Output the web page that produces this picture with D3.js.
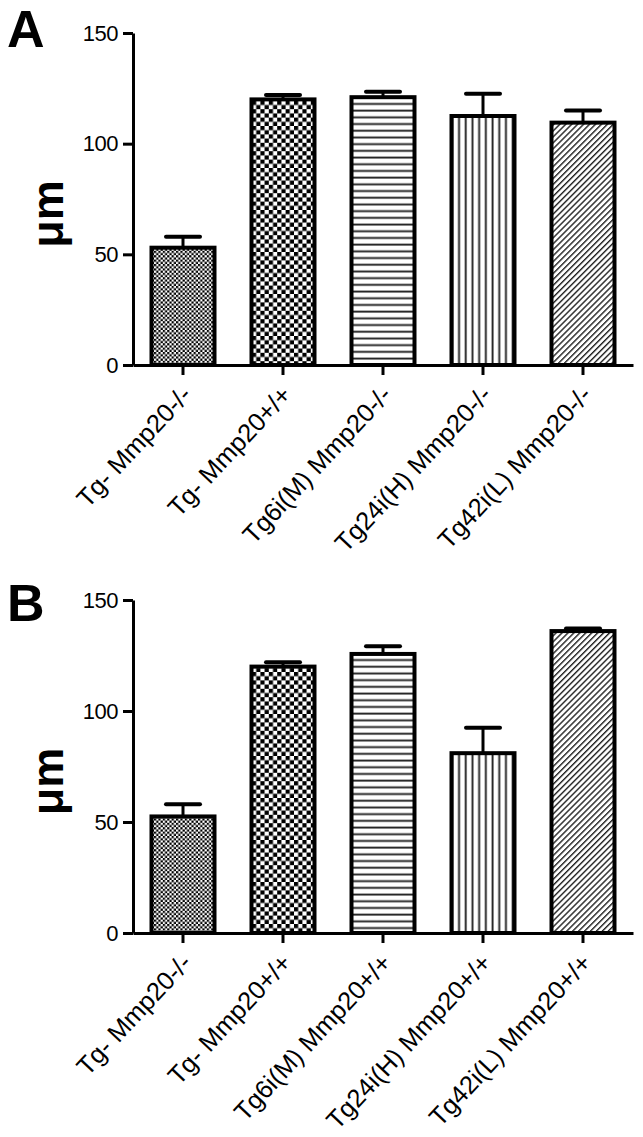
<!DOCTYPE html>
<html>
<head>
<meta charset="utf-8">
<script src="https://cdn.jsdelivr.net/npm/d3@7"></script>
<style>
  html, body { margin: 0; padding: 0; background: #fff; }
  svg { display: block; }
  text { font-family: "Liberation Sans", Arial, sans-serif; fill: #000; }
</style>
</head>
<body>
<script>
// ---- data ----
const categoriesA = ["Tg- Mmp20-/-", "Tg- Mmp20+/+", "Tg6i(M) Mmp20-/-", "Tg24i(H) Mmp20-/-", "Tg42i(L) Mmp20-/-"];
const valuesA = [53, 120, 121, 112.5, 109.5];
const errorsA = [5, 2, 2.5, 10, 5.5];

const categoriesB = ["Tg- Mmp20-/-", "Tg- Mmp20+/+", "Tg6i(M) Mmp20+/+", "Tg24i(H) Mmp20+/+", "Tg42i(L) Mmp20+/+"];
const valuesB = [52.5, 120, 125.7, 81, 136];
const errorsB = [5.5, 2, 3.5, 11.5, 1.2];

const yTicks = [0, 50, 100, 150];
const patternIds = ["checkFine", "checkCoarse", "hLines", "vLines", "diag"];
const panelLetters = ["A", "B"];
const yLabel = "μm";

// ---- svg ----
const W = 643, H = 1137;
const svg = d3.select("body").append("svg").attr("width", W).attr("height", H);

// patterns
const defs = svg.append("defs");
{
  let p = defs.append("pattern").attr("id", "checkFine").attr("patternUnits", "userSpaceOnUse")
    .attr("width", 4.4).attr("height", 4.4);
  p.append("rect").attr("width", 4.4).attr("height", 4.4).attr("fill", "#fff");
  p.append("rect").attr("x", 0).attr("y", 0).attr("width", 2.2).attr("height", 2.2).attr("fill", "#000");
  p.append("rect").attr("x", 2.2).attr("y", 2.2).attr("width", 2.2).attr("height", 2.2).attr("fill", "#000");

  p = defs.append("pattern").attr("id", "checkCoarse").attr("patternUnits", "userSpaceOnUse")
    .attr("width", 8.4).attr("height", 8.4);
  p.append("rect").attr("width", 8.4).attr("height", 8.4).attr("fill", "#fff");
  p.append("rect").attr("x", 0).attr("y", 0).attr("width", 4.2).attr("height", 4.2).attr("fill", "#000");
  p.append("rect").attr("x", 4.2).attr("y", 4.2).attr("width", 4.2).attr("height", 4.2).attr("fill", "#000");

  p = defs.append("pattern").attr("id", "hLines").attr("patternUnits", "userSpaceOnUse")
    .attr("width", 10).attr("height", 6.7);
  p.append("rect").attr("width", 10).attr("height", 6.7).attr("fill", "#fff");
  p.append("rect").attr("x", 0).attr("y", 2.5).attr("width", 10).attr("height", 1.9).attr("fill", "#222");

  p = defs.append("pattern").attr("id", "vLines").attr("patternUnits", "userSpaceOnUse")
    .attr("width", 6.7).attr("height", 10);
  p.append("rect").attr("width", 6.7).attr("height", 10).attr("fill", "#fff");
  p.append("rect").attr("x", 2.5).attr("y", 0).attr("width", 1.9).attr("height", 10).attr("fill", "#222");

  p = defs.append("pattern").attr("id", "diag").attr("patternUnits", "userSpaceOnUse")
    .attr("width", 4.2).attr("height", 10).attr("patternTransform", "rotate(45)");
  p.append("rect").attr("width", 4.2).attr("height", 10).attr("fill", "#fff");
  p.append("rect").attr("x", 0).attr("y", 0).attr("width", 1.4).attr("height", 10).attr("fill", "#222");
}

function drawPanel(cfg) {
  const { cats, vals, errs, top, bottom, letter, letterY } = cfg;
  const x = d3.scaleBand().domain(cats).range([133, 633]).paddingInner(0.33).paddingOuter(0.165);
  const y = d3.scaleLinear().domain([0, 150]).range([bottom, top]);
  const g = svg.append("g");

  // bars
  g.selectAll("rect.bar").data(cats).enter().append("rect")
    .attr("class", "bar")
    .attr("x", d => x(d) + 2)
    .attr("width", x.bandwidth() - 4)
    .attr("y", (d, i) => y(vals[i]))
    .attr("height", (d, i) => y(0) - y(vals[i]))
    .attr("fill", (d, i) => `url(#${patternIds[i]})`)
    .attr("stroke", "#000").attr("stroke-width", 4);

  // error bars
  const cx = d => x(d) + x.bandwidth() / 2;
  g.selectAll("line.stem").data(cats).enter().append("line")
    .attr("x1", cx).attr("x2", cx)
    .attr("y1", (d, i) => y(vals[i])).attr("y2", (d, i) => y(vals[i] + errs[i]))
    .attr("stroke", "#000").attr("stroke-width", 3);
  g.selectAll("line.cap").data(cats).enter().append("line")
    .attr("x1", d => cx(d) - 17).attr("x2", d => cx(d) + 17)
    .attr("y1", (d, i) => y(vals[i] + errs[i])).attr("y2", (d, i) => y(vals[i] + errs[i]))
    .attr("stroke", "#000").attr("stroke-width", 4).attr("stroke-linecap", "round");

  // y axis
  const ya = g.append("g").attr("transform", "translate(133,0)")
    .call(d3.axisLeft(y).tickValues(yTicks).tickSize(10).tickSizeOuter(0).tickPadding(5));
  ya.select(".domain").attr("stroke-width", 3);
  ya.selectAll(".tick line").attr("stroke-width", 3);
  ya.selectAll(".tick text").attr("font-size", 22).attr("font-family", "Liberation Sans, Arial, sans-serif")
    .attr("letter-spacing", -0.5);

  // x axis
  const xa = g.append("g").attr("transform", `translate(0,${bottom})`)
    .call(d3.axisBottom(x).tickSize(10).tickSizeOuter(0));
  xa.select(".domain").attr("stroke-width", 3);
  xa.selectAll(".tick line").attr("stroke-width", 3);
  xa.selectAll(".tick text")
    .attr("font-size", 25.5).attr("font-family", "Liberation Sans, Arial, sans-serif")
    .attr("text-anchor", "end").attr("dy", null).attr("y", null)
    .attr("transform", "translate(10,31) rotate(-47)");

  // y label
  svg.append("text").attr("transform", `translate(63,${(top + bottom) / 2 + 15}) rotate(-90)`)
    .attr("text-anchor", "middle").attr("font-size", 45).attr("font-weight", "bold").text(yLabel);

  // panel letter
  svg.append("text").attr("x", 7).attr("y", letterY).attr("font-size", 52).attr("font-weight", "bold").text(letter);
}

drawPanel({ cats: categoriesA, vals: valuesA, errs: errorsA, top: 33, bottom: 365, letter: panelLetters[0], letterY: 47 });
drawPanel({ cats: categoriesB, vals: valuesB, errs: errorsB, top: 600, bottom: 933, letter: panelLetters[1], letterY: 621 });
</script>
</body>
</html>
